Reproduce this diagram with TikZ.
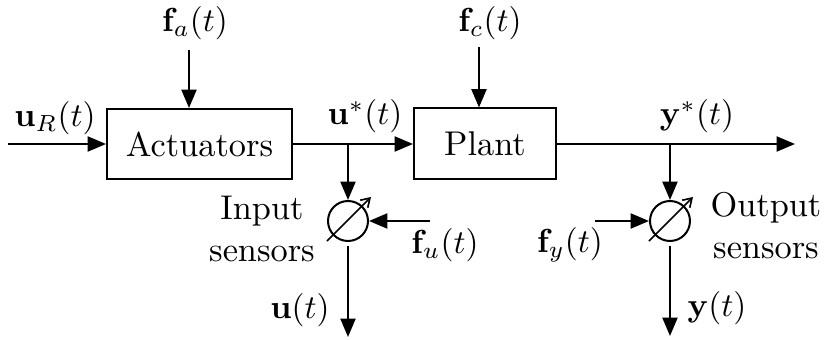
\documentclass[tikz,border=0pt]{standalone}
\usetikzlibrary{arrows.meta,calc}
\begin{document}
\begin{tikzpicture}[x=0.3pt,y=-0.3pt,
  line width=0.6pt,
  font=\fontsize{10.3}{12.6}\selectfont,
  arr/.style={-{Triangle[length=5.5pt,width=4.5pt]}},
  blockbox/.style={draw,rectangle,inner sep=0pt},
  sensor/.style={draw,circle,minimum size=12pt,inner sep=0pt},
  lbl/.style={inner sep=0pt}]
\useasboundingbox (0,0) rectangle (827,340);
% blocks
\node[blockbox,minimum width=55.5pt,minimum height=21pt] (act) at (199.5,144) {Actuators};
\node[blockbox,minimum width=42.6pt,minimum height=21.3pt] (plant) at (485,144) {Plant};
% sensors
\node[sensor] (s1) at (348,221) {};
\node[sensor] (s2) at (670,221) {};
\draw[-{Straight Barb[length=2.5pt,width=3.2pt]},line width=0.5pt] ($(s1)+(-21,20)$) -- ($(s1)+(23,-24)$);
\draw[-{Straight Barb[length=2.5pt,width=3.2pt]},line width=0.5pt] ($(s2)+(-21,20)$) -- ($(s2)+(23,-24)$);
% coordinates
\coordinate (in0) at (8,144);
\coordinate (out1) at (795,144);
\coordinate (b1) at (348,144);
\coordinate (b2) at (670,144);
\coordinate (fa0) at (189,50);
\coordinate (fc0) at (479,47);
\coordinate (fu0) at (430,221);
\coordinate (fy0) at (595,221);
\coordinate (u1) at ($(s1.south)+(0,4)$);
\coordinate (u2) at (348,337);
\coordinate (y1) at ($(s2.south)+(0,4)$);
\coordinate (y2) at (670,336);
% connectors
\draw[arr] (in0) -- (act.west);
\draw[arr] (act.east) -- (plant.west);
\draw[arr] (plant.east) -- (out1);
\draw[arr] (fa0) -- (fa0 |- act.north);
\draw[arr] (fc0) -- (fc0 |- plant.north);
\draw[arr] (b1) -- (s1.north);
\draw[arr] (b2) -- (s2.north);
\draw[arr] (fu0) -- (s1.east);
\draw[arr] (fy0) -- (s2.west);
\draw[arr] (u1) -- (u2);
\draw[arr] (y1) -- (y2);
% labels
\node[lbl] (luR) at (55,118) {$\mathbf{u}_R(t)$};
\node[lbl] (lus) at (365,116) {$\mathbf{u}^*(t)$};
\node[lbl] (lys) at (697,116) {$\mathbf{y}^*(t)$};
\node[lbl] (lfa) at (195,23) {$\mathbf{f}_a(t)$};
\node[lbl] (lfc) at (490,23) {$\mathbf{f}_c(t)$};
\node[lbl] (lfu) at (445,245) {$\mathbf{f}_u(t)$};
\node[lbl] (lfy) at (570,245) {$\mathbf{f}_y(t)$};
\node[lbl] (lu) at (300,310) {$\mathbf{u}(t)$};
\node[lbl] (ly) at (717,308) {$\mathbf{y}(t)$};
\node[lbl,align=center] (lin) at (262,229) {Input\\sensors};
\node[lbl,align=center] (lout) at (766,226) {Output\\sensors};
\end{tikzpicture}
\end{document}
